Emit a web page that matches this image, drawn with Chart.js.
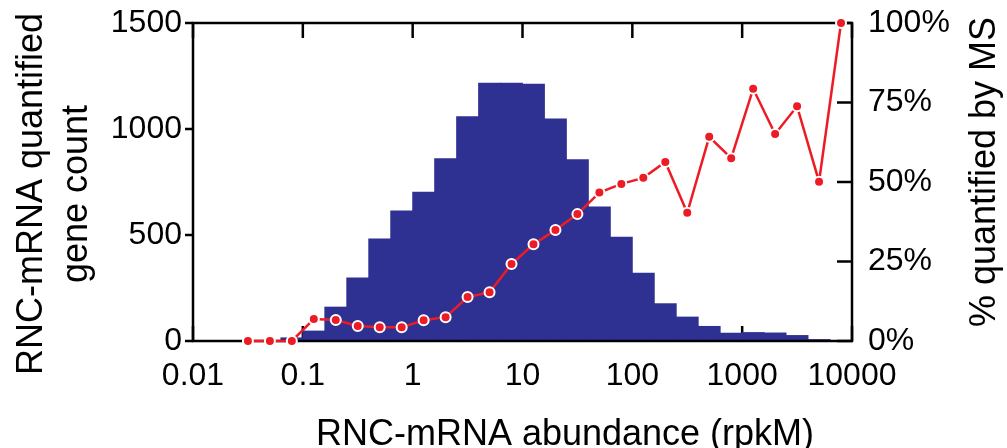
<!DOCTYPE html>
<html>
<head>
<meta charset="utf-8">
<script src="https://cdn.jsdelivr.net/npm/chart.js@4.4.0/dist/chart.umd.min.js"></script>
<style>
  html, body { margin: 0; padding: 0; background: #fff; }
</style>
</head>
<body>
<canvas id="chart" width="1007" height="448"></canvas>
<script>
// histogram bins are 0.2 decade wide, these are the bin centres (rpkM)
const binCenters = [0.03162, 0.05012, 0.07943, 0.1259, 0.1995, 0.3162, 0.5012, 0.7943,
  1.259, 1.995, 3.162, 5.012, 7.943, 12.59, 19.95, 31.62, 50.12, 79.43,
  125.9, 199.5, 316.2, 501.2, 794.3, 1259, 1995, 3162, 5012, 7943];
// gene count per bin (left axis)
const geneCounts = [0, 0, 17, 49, 162, 300, 484, 616, 704, 862, 1060, 1218, 1218, 1213,
  1050, 857, 635, 492, 322, 178, 115, 71, 39, 42, 40, 28, 9, 1];
// % quantified by MS per bin (right axis)
const pctQuantified = [0, 0, 0, 6.9, 6.6, 4.7, 4.3, 4.3, 6.5, 7.5, 13.8, 15.3, 24.2, 30.4,
  34.9, 39.9, 46.7, 49.4, 51.3, 56.3, 40.3, 64.2, 57.5, 79.3, 65.1, 73.8, 50.1, 100];

const xTicks = [0.01, 0.1, 1, 10, 100, 1000, 10000];
const countTicks = [0, 500, 1000, 1500];
const pctTicks = [0, 25, 50, 75, 100];

const fontFamily = "'Liberation Sans', Arial, sans-serif";
Chart.defaults.font.family = fontFamily;
Chart.defaults.color = '#000';

function vText(ctx, text, x, y) {
  // text rotated to read bottom -> top, x is the baseline
  ctx.save();
  ctx.translate(x, y);
  ctx.rotate(-Math.PI / 2);
  ctx.fillText(text, 0, 0);
  ctx.restore();
}

const frame = {
  id: 'frame',
  beforeDatasetsDraw(chart) {
    const { ctx, chartArea: a, scales } = chart;
    ctx.save();
    ctx.strokeStyle = '#000';
    ctx.lineWidth = 2.5;
    ctx.beginPath();
    xTicks.forEach(v => {
      const px = scales.x.getPixelForValue(v);
      ctx.moveTo(px, a.bottom); ctx.lineTo(px, a.bottom - 15);
      ctx.moveTo(px, a.top); ctx.lineTo(px, a.top + 15);
    });
    pctTicks.forEach(v => {
      const py = scales.y1.getPixelForValue(v);
      ctx.moveTo(a.right, py); ctx.lineTo(a.right - 15, py);
    });
    countTicks.forEach(v => {
      const py = scales.y.getPixelForValue(v);
      ctx.moveTo(a.left, py); ctx.lineTo(a.left - 8, py);
    });
    ctx.stroke();
    ctx.restore();
  },
  afterDatasetDraw(chart, args) {
    // box goes over the bars but under the red line
    if (args.index !== 0) return;
    const { ctx, chartArea: a } = chart;
    ctx.save();
    ctx.strokeStyle = '#000';
    ctx.lineWidth = 2.5;
    ctx.strokeRect(a.left, a.top, a.right - a.left, a.bottom - a.top);
    ctx.restore();
  },
  afterDraw(chart) {
    const ctx = chart.ctx;
    ctx.save();
    ctx.font = '36px ' + fontFamily;
    ctx.fillStyle = '#000';
    ctx.textAlign = 'center';
    ctx.textBaseline = 'alphabetic';
    ctx.fillText('RNC-mRNA abundance (rpkM)', 565, 445);
    vText(ctx, 'RNC-mRNA quantified', 42, 194);
    vText(ctx, 'gene count', 87, 194);
    vText(ctx, '% quantified by MS', 995, 172);
    ctx.restore();
  }
};

new Chart(document.getElementById('chart'), {
  type: 'bar',
  data: {
    datasets: [{
      type: 'bar',
      data: binCenters.map((x, i) => ({ x: x, y: geneCounts[i] })),
      backgroundColor: '#2e3192',
      borderWidth: 0,
      barPercentage: 1.04,
      categoryPercentage: 1,
      yAxisID: 'y',
      order: 2
    }, {
      type: 'line',
      data: binCenters.map((x, i) => ({ x: x, y: pctQuantified[i] })),
      borderColor: '#ed1c24',
      borderWidth: 2.5,
      pointRadius: 5,
      pointBackgroundColor: '#ed1c24',
      pointBorderColor: '#fff',
      pointBorderWidth: 2,
      tension: 0,
      clip: false,
      yAxisID: 'y1',
      order: 1
    }]
  },
  options: {
    responsive: false,
    animation: false,
    layout: { padding: { top: 23, left: 0, right: 0, bottom: 0 } },
    plugins: { legend: { display: false }, tooltip: { enabled: false } },
    scales: {
      x: {
        type: 'logarithmic',
        position: 'bottom',
        offset: false,
        min: 0.01,
        max: 10000,
        afterBuildTicks: s => { s.ticks = xTicks.map(v => ({ value: v })); },
        afterFit: s => { s.height = 448 - 341; },
        grid: { display: false, drawTicks: false },
        border: { display: false },
        ticks: { autoSkip: false, maxRotation: 0, padding: 16, font: { size: 32 }, callback: v => String(v) }
      },
      y: {
        position: 'left',
        min: 0,
        max: 1500,
        afterBuildTicks: s => { s.ticks = countTicks.map(v => ({ value: v })); },
        afterFit: s => { s.width = 193; },
        grid: { display: false, drawTicks: false },
        border: { display: false },
        // small lineHeight so the labels don't push the plot top down
        ticks: { padding: 11, font: { size: 32, lineHeight: 0.4 }, callback: v => String(v) }
      },
      y1: {
        position: 'right',
        min: 0,
        max: 100,
        afterBuildTicks: s => { s.ticks = pctTicks.map(v => ({ value: v })); },
        afterFit: s => { s.width = 1007 - 852; },
        grid: { display: false, drawTicks: false },
        border: { display: false },
        ticks: { padding: 16, font: { size: 32, lineHeight: 0.4 }, callback: v => v + '%' }
      }
    }
  },
  plugins: [frame]
});
</script>
</body>
</html>
